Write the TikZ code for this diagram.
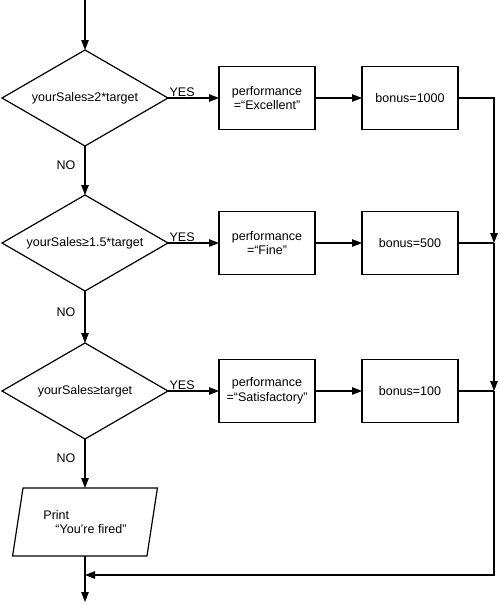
\documentclass[tikz,border=0pt]{standalone}
\usepackage{fontspec}
\setmainfont{Liberation Sans}
\usetikzlibrary{positioning,shapes.geometric,arrows.meta}
\tikzset{
    decision/.style={draw, diamond, aspect=1.7, inner sep=1pt, outer sep=0pt, minimum width=166pt, minimum height=96pt, text centered},
    action/.style={draw, rectangle, outer sep=0pt, minimum width=96pt, minimum height=63pt, text centered, align=center},
    printbox/.style={draw, trapezium, trapezium left angle=76, trapezium right angle=104, trapezium stretches=true, outer sep=0pt, minimum width=145pt, minimum height=68pt, align=left},
    flow/.style={-{Triangle[length=10pt,width=7.5pt]}, line width=1.2pt},
    lbl/.style={inner sep=1pt, font=\fontsize{12.5}{14.5}\selectfont}
}

\begin{document}
\begin{tikzpicture}[x=1pt, y=-1pt, line width=1.2pt, font=\fontsize{12.5}{14.5}\selectfont]
        \useasboundingbox (0,0) rectangle (500,605);

        % Decisions
        \node (test_two) [decision] at (85,98) {yourSales≥2*target};
        \node (test_half) [decision, below=49pt of test_two] {yourSales≥1.5*target};
        \node (test_one) [decision, below=52pt of test_half] {yourSales≥target};

        % Performance and bonus
        \node (perf_exc) [action, right=51pt of test_two] {performance\\=“Excellent”};
        \node (bonus_exc) [action, right=47pt of perf_exc] {bonus=1000};
        \node (perf_fine) [action, right=51pt of test_half] {performance\\=“Fine”};
        \node (bonus_fine) [action, right=47pt of perf_fine] {bonus=500};
        \node (perf_sat) [action, right=51pt of test_one] {performance\\=“Satisfactory”};
        \node (bonus_sat) [action, right=47pt of perf_sat] {bonus=100};

        % Print
        \node (fired) [printbox, below=49pt of test_one] {Print\\\hspace*{12pt}“You’re fired”};

        % Free ends
        \coordinate (start) at (85,0);
        \coordinate (finish) at (85,602);
        \coordinate (rail) at (494,0);
        \coordinate (join_fine) at (bonus_fine.east -| rail);
        \coordinate (join_sat) at (bonus_sat.east -| rail);
        \coordinate (join_end) at (494,575);

        % Main flow
        \draw[flow] (start) -- (test_two.north);
        \draw[flow] (test_two.south) -- node[lbl, left=8pt, pos=0.4] {NO} (test_half.north);
        \draw[flow] (test_half.south) -- node[lbl, left=8pt, pos=0.4] {NO} (test_one.north);
        \draw[flow] (test_one.south) -- node[lbl, left=8pt, pos=0.4] {NO} (fired.north);
        \draw[flow] (fired.south) -- (finish);

        % YES branches
        \draw[flow] (test_two.east) -- node[lbl, above right, pos=0] {YES} (perf_exc);
        \draw[flow] (test_half.east) -- node[lbl, above right, pos=0] {YES} (perf_fine);
        \draw[flow] (test_one.east) -- node[lbl, above right, pos=0] {YES} (perf_sat);
        \draw[flow] (perf_exc) -- (bonus_exc);
        \draw[flow] (perf_fine) -- (bonus_fine);
        \draw[flow] (perf_sat) -- (bonus_sat);

        % Collect
        \draw[flow] (bonus_exc.east) -| (join_fine);
        \draw (bonus_fine.east) -- (join_fine);
        \draw[flow] (join_fine) -- (join_sat);
        \draw (bonus_sat.east) -- (join_sat);
        \draw[flow] (join_sat) -- (join_end) -- (join_end -| fired.south);

    \end{tikzpicture}
\end{document}
